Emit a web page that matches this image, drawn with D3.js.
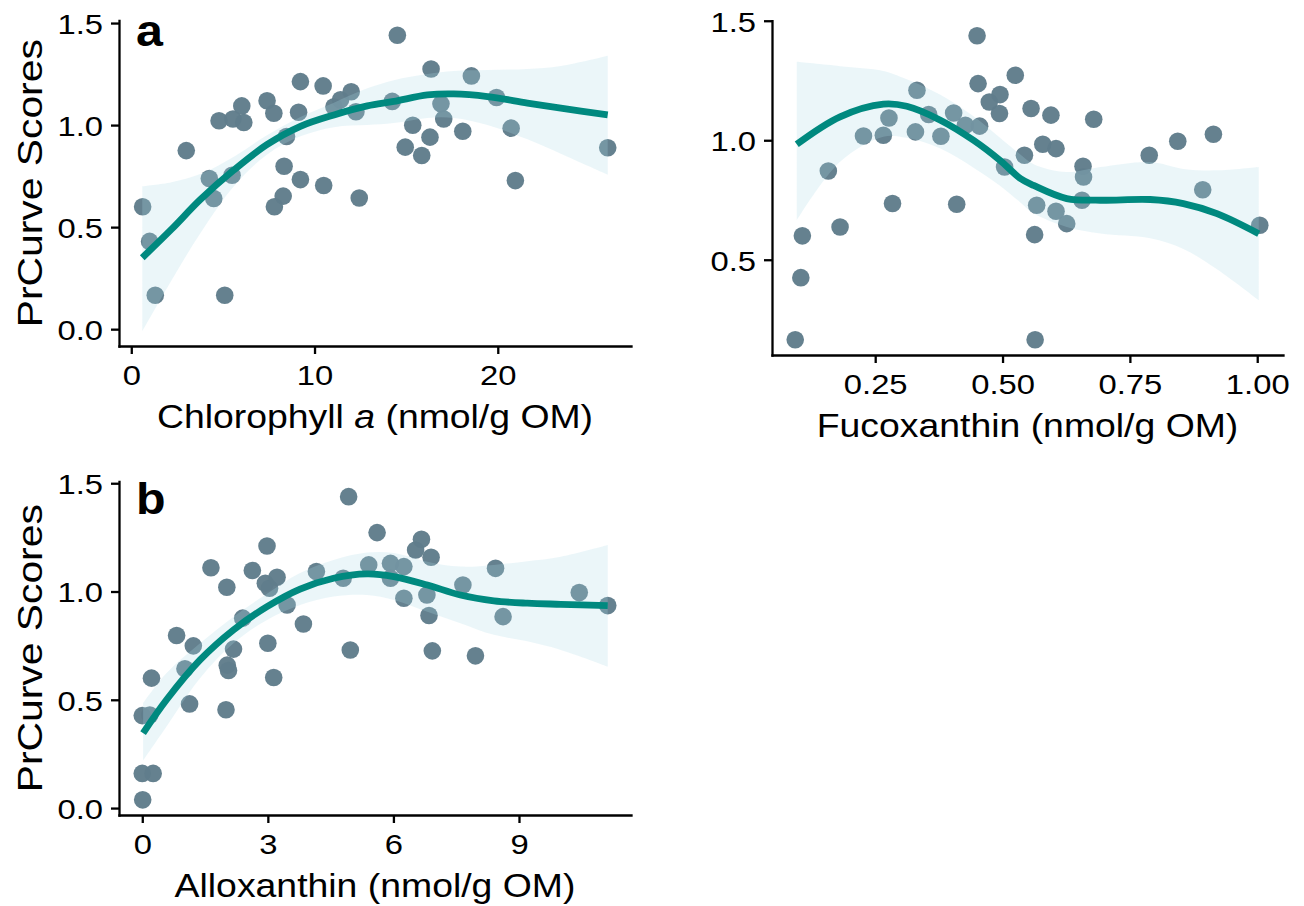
<!DOCTYPE html>
<html>
<head>
<meta charset="utf-8">
<script src="https://cdn.jsdelivr.net/npm/d3@7"></script>
<style>
  html, body { margin: 0; padding: 0; background: #ffffff; }
  svg { display: block; }
  text { font-family: "Liberation Sans", Arial, Helvetica, sans-serif; fill: #000; }
</style>
</head>
<body>
<svg id="chart" width="1304" height="906"></svg>
<script>
// ---------------- DATA ----------------
// Panel a: Chlorophyll a vs PrCurve scores
const chlA = [0.62, 1.0, 1.31, 3.0, 4.26, 4.5, 5.5, 5.1, 4.79, 5.55, 6.03, 6.14, 7.41, 7.78, 9.13, 9.23, 10.47,
  8.47, 8.34, 9.23, 8.29, 7.81, 10.5, 12.44, 11.06, 11.42, 12.0, 12.26, 14.52, 14.24, 16.36, 18.56, 16.9, 17.05,
  15.36, 16.3, 18.09, 14.95, 15.85, 19.93, 20.73, 20.96, 26.0];
const scoreChl = [0.60, 0.43, 0.166, 0.875, 0.738, 0.64, 0.754, 0.166, 1.021, 1.03, 1.094, 1.013, 1.119, 1.058, 1.063, 1.213, 1.192,
  0.944, 0.798, 0.733, 0.652, 0.60, 0.704, 0.643, 1.09, 1.124, 1.163, 1.065, 1.44, 1.116, 1.275, 1.241, 1.104, 1.03,
  0.999, 0.941, 0.97, 0.892, 0.851, 1.135, 0.985, 0.728, 0.889];
const fitChlX  = [0.6, 2.2, 3.77, 5.6, 7.4, 9.23, 11.06, 12.88, 14.33, 16.16, 17.6, 19.44, 21.62, 23.44, 26.0];
const fitChlY  = [0.35, 0.49, 0.635, 0.78, 0.904, 0.994, 1.05, 1.094, 1.116, 1.148, 1.153, 1.14, 1.108, 1.083, 1.05];
const fitChlHi = [0.70, 0.72, 0.76, 0.845, 0.95, 1.04, 1.11, 1.18, 1.22, 1.25, 1.265, 1.27, 1.275, 1.29, 1.34];
const fitChlLo = [-0.01, 0.24, 0.47, 0.70, 0.855, 0.945, 0.99, 1.0, 1.01, 1.035, 1.035, 1.0, 0.93, 0.86, 0.757];

// Panel top-right: Fucoxanthin vs PrCurve scores
const fuco = [0.093, 0.104, 0.107, 0.158, 0.181, 0.227, 0.266, 0.277, 0.284, 0.329, 0.332, 0.355, 0.379, 0.404, 0.41,
  0.427, 0.455, 0.45, 0.452, 0.474, 0.495, 0.494, 0.504, 0.525, 0.556, 0.595, 0.679, 0.543, 0.579, 0.605, 0.567,
  0.605, 0.626, 0.563, 0.564, 0.658, 0.659, 0.656, 0.788, 0.844, 0.914, 0.893, 1.005];
const scoreFuco = [0.165, 0.425, 0.60, 0.871, 0.637, 1.018, 1.021, 1.093, 0.735, 1.035, 1.209, 1.108, 1.017, 1.114, 0.732,
  1.063, 1.059, 1.437, 1.237, 1.16, 1.191, 1.112, 0.888, 1.272, 1.133, 1.105, 1.088, 0.937, 0.983, 0.965, 0.728,
  0.703, 0.651, 0.605, 0.165, 0.891, 0.846, 0.749, 0.937, 0.996, 1.025, 0.793, 0.644];
const fitFucoX  = [0.096, 0.181, 0.266, 0.312, 0.378, 0.443, 0.495, 0.535, 0.561, 0.626, 0.692, 0.79, 0.855, 0.921, 1.003];
const fitFucoY  = [0.983, 1.098, 1.151, 1.142, 1.084, 1.0, 0.916, 0.84, 0.811, 0.756, 0.749, 0.752, 0.735, 0.693, 0.609];
const fitFucoHi = [1.328, 1.31, 1.29, 1.255, 1.19, 1.10, 1.01, 0.94, 0.90, 0.867, 0.888, 0.909, 0.88, 0.874, 0.888];
const fitFucoLo = [0.665, 0.91, 1.015, 1.01, 0.965, 0.885, 0.81, 0.74, 0.694, 0.637, 0.61, 0.59, 0.545, 0.46, 0.33];

// Panel b: Alloxanthin vs PrCurve scores
const allo = [0.01, 0.0, 0.26, 0.0, 0.18, 0.22, 0.82, 1.02, 1.22, 1.13, 1.64, 2.02, 2.0, 2.03, 2.06, 2.18, 2.4, 2.63,
  2.98, 2.94, 3.04, 3.22, 3.0, 3.14, 3.46, 3.85, 4.16, 4.8, 4.93, 4.97, 5.41, 5.61, 5.93, 5.93, 6.25, 6.25, 6.53,
  6.67, 6.9, 6.8, 6.85, 6.93, 7.66, 7.96, 8.44, 8.62, 10.44, 11.12];
const scoreAllo = [0.038, 0.16, 0.16, 0.427, 0.43, 0.60, 0.797, 0.643, 0.749, 0.481, 1.11, 1.02, 0.454, 0.66, 0.635, 0.734, 0.877, 1.097,
  1.21, 1.038, 1.015, 1.066, 0.761, 0.603, 0.938, 0.85, 1.092, 1.061, 1.438, 0.73, 1.123, 1.272, 1.13, 1.061, 1.115, 0.969, 1.192,
  1.241, 1.158, 0.984, 0.889, 0.726, 1.03, 0.703, 1.107, 0.884, 0.995, 0.935];
const fitAlloX  = [0.02, 0.58, 1.38, 2.18, 2.98, 3.77, 4.57, 5.37, 6.01, 6.81, 7.6, 8.4, 9.2, 10.0, 11.12];
const fitAlloY  = [0.346, 0.5, 0.684, 0.823, 0.93, 1.011, 1.061, 1.081, 1.069, 1.03, 0.984, 0.957, 0.946, 0.941, 0.935];
const fitAlloHi = [0.485, 0.624, 0.761, 0.884, 0.99, 1.085, 1.146, 1.18, 1.178, 1.138, 1.115, 1.123, 1.14, 1.161, 1.215];
const fitAlloLo = [0.22, 0.377, 0.6, 0.761, 0.869, 0.938, 0.977, 0.984, 0.961, 0.907, 0.854, 0.80, 0.77, 0.73, 0.653];

// Tick values
const ticksScore = [0, 0.5, 1.0, 1.5];
const ticksFucoScore = [0.5, 1.0, 1.5];
const ticksChlX = [0, 10, 20];
const ticksFucoX = [0.25, 0.5, 0.75, 1.0];
const ticksAlloX = [0, 3, 6, 9];

// ---------------- STYLE ----------------
const POINT_COLOR = "#607D8B";
const LINE_COLOR = "#00897F";
const BAND_COLOR = "#ADD8E6";
const STRETCH = 1.15;      // horizontal stretch of the original typeface
const TICK_FONT = 28.5;
const XTITLE_FONT = 32.5;
const YTITLE_FONT = 35.5;

const svg = d3.select("#chart");

function padded(vals) {
  const [a, b] = d3.extent(vals);
  const p = (b - a) * 0.05;
  return [a - p, b + p];
}

function drawPanel(cfg) {
  const g = svg.append("g");
  const xAll = cfg.px.concat(cfg.fx);
  const yAll = cfg.py.concat(cfg.flo, cfg.fhi);
  const x = d3.scaleLinear().domain(padded(xAll)).range([cfg.box.left, cfg.box.right]);
  const y = d3.scaleLinear().domain(padded(yAll)).range([cfg.box.bottom, cfg.box.top]);

  // points
  const pts = cfg.px.map((v, i) => ({ x: v, y: cfg.py[i] }));
  g.append("g").selectAll("circle").data(pts).join("circle")
    .attr("cx", d => x(d.x)).attr("cy", d => y(d.y)).attr("r", 8.8)
    .attr("fill", POINT_COLOR).attr("fill-opacity", 0.97);

  // fit band + line
  const fit = cfg.fx.map((v, i) => ({ x: v, y: cfg.fy[i], lo: cfg.flo[i], hi: cfg.fhi[i] }));
  const curve = d3.curveCatmullRom.alpha(0.5);
  g.append("path").datum(fit)
    .attr("d", d3.area().x(d => x(d.x)).y0(d => y(d.lo)).y1(d => y(d.hi)).curve(curve))
    .attr("fill", BAND_COLOR).attr("fill-opacity", 0.24);
  g.append("path").datum(fit)
    .attr("d", d3.line().x(d => x(d.x)).y(d => y(d.y)).curve(curve))
    .attr("fill", "none").attr("stroke", LINE_COLOR).attr("stroke-width", 6.8)
    .attr("stroke-linecap", "butt");

  // axes
  const yAxis = d3.axisLeft(y).tickValues(cfg.yTicks).tickFormat(d3.format(".1f"))
    .tickSize(8).tickSizeOuter(0).tickPadding(8);
  const xAxis = d3.axisBottom(x).tickValues(cfg.xTicks).tickFormat(cfg.xFormat)
    .tickSize(8).tickSizeOuter(0).tickPadding(11);

  const ya = g.append("g").attr("transform", `translate(${cfg.box.left},0)`).call(yAxis);
  const xa = g.append("g").attr("transform", `translate(0,${cfg.box.bottom})`).call(xAxis);
  [ya, xa].forEach(a => {
    a.select(".domain").attr("stroke", "#000").attr("stroke-width", 2.3).attr("stroke-linecap", "square");
    a.selectAll(".tick line").attr("stroke", "#000").attr("stroke-width", 2.3);
    a.selectAll(".tick text").attr("font-size", TICK_FONT).attr("fill", "#000")
      .attr("font-family", '"Liberation Sans", Arial, sans-serif');
  });
  ya.selectAll(".tick text").each(function () {
    const t = d3.select(this);
    t.attr("x", (+t.attr("x")) / STRETCH).attr("dy", "0.36em").attr("transform", `scale(${STRETCH},1)`);
  });
  xa.selectAll(".tick text").attr("transform", `scale(${STRETCH},1)`);

  // x title
  const cx = (cfg.box.left + cfg.box.right) / 2;
  const xt = g.append("text")
    .attr("transform", `translate(${cx},${cfg.box.bottom + 82}) scale(${STRETCH},1)`)
    .attr("text-anchor", "middle").attr("font-size", XTITLE_FONT);
  cfg.xTitle.forEach(part => {
    xt.append("tspan").text(part.t).attr("font-style", part.i ? "italic" : "normal");
  });

  // y title
  if (cfg.yTitle) {
    const cy = (cfg.box.top + cfg.box.bottom) / 2;
    g.append("text")
      .attr("transform", `translate(42,${cy}) rotate(-90) scale(${STRETCH},1)`)
      .attr("text-anchor", "middle").attr("font-size", YTITLE_FONT).text(cfg.yTitle);
  }

  // panel tag
  if (cfg.tag) {
    g.append("text")
      .attr("transform", `translate(${cfg.box.left + 17},${cfg.box.top + cfg.tagDy}) scale(1.1,1)`)
      .attr("font-size", 44).attr("font-weight", "bold").text(cfg.tag);
  }
}

drawPanel({
  box: { left: 119, right: 631, top: 20.5, bottom: 346 },
  px: chlA, py: scoreChl, fx: fitChlX, fy: fitChlY, flo: fitChlLo, fhi: fitChlHi,
  xTicks: ticksChlX, xFormat: d3.format("d"), yTicks: ticksScore,
  xTitle: [{ t: "Chlorophyll " }, { t: "a", i: true }, { t: " (nmol/g OM)" }],
  yTitle: "PrCurve Scores", tag: "a", tagDy: 25
});

drawPanel({
  box: { left: 772, right: 1283, top: 20.6, bottom: 355 },
  px: fuco, py: scoreFuco, fx: fitFucoX, fy: fitFucoY, flo: fitFucoLo, fhi: fitFucoHi,
  xTicks: ticksFucoX, xFormat: d3.format(".2f"), yTicks: ticksFucoScore,
  xTitle: [{ t: "Fucoxanthin (nmol/g OM)" }],
  yTitle: null, tag: null
});

drawPanel({
  box: { left: 119, right: 631, top: 481.5, bottom: 815 },
  px: allo, py: scoreAllo, fx: fitAlloX, fy: fitAlloY, flo: fitAlloLo, fhi: fitAlloHi,
  xTicks: ticksAlloX, xFormat: d3.format("d"), yTicks: ticksScore,
  xTitle: [{ t: "Alloxanthin (nmol/g OM)" }],
  yTitle: "PrCurve Scores", tag: "b", tagDy: 32
});
</script>
</body>
</html>
